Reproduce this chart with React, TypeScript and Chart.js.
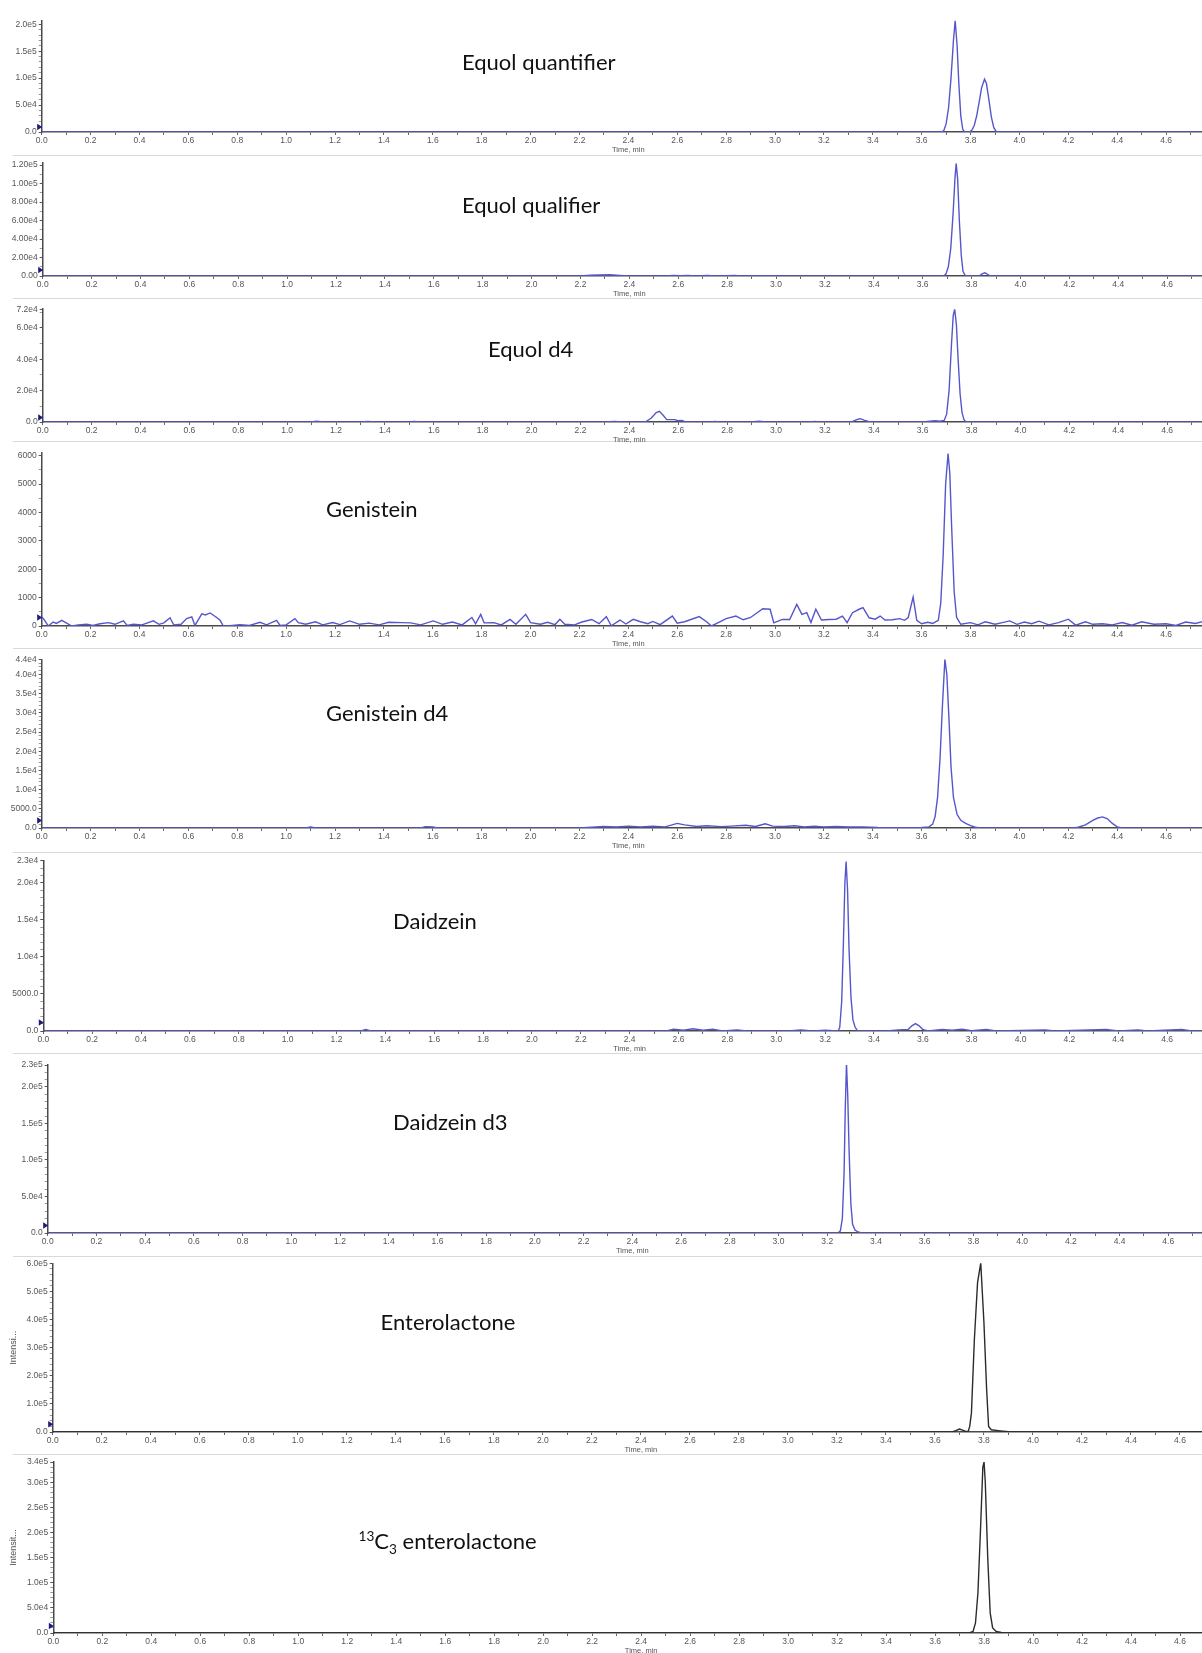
import React, { useEffect, useRef } from 'react';
import { Chart, registerables } from 'chart.js';

Chart.register(...registerables);

type Pt = [number, number];

// ---------- DATA (time in min, intensity in cps) ----------
const xTickLabels = ['0.0', '0.2', '0.4', '0.6', '0.8', '1.0', '1.2', '1.4', '1.6', '1.8', '2.0', '2.2', '2.4', '2.6', '2.8', '3.0', '3.2', '3.4', '3.6', '3.8', '4.0', '4.2', '4.4', '4.6'];
const xAxisTitle = 'Time, min';

const equolQuantifier: Pt[] = [
  [0, 0], [3.68, 0], [3.69, 2000], [3.7, 15000], [3.71, 45000], [3.72, 100000], [3.73, 170000], [3.737, 207000], [3.745, 160000], [3.752, 90000], [3.76, 30000], [3.768, 5000], [3.775, 0], [3.795, 0], [3.805, 3000], [3.815, 12000], [3.825, 30000], [3.835, 55000], [3.845, 82000], [3.857, 98000], [3.865, 90000], [3.875, 60000], [3.885, 28000], [3.895, 8000], [3.905, 1000], [3.915, 0], [4.8, 0],
];
const equolQualifier: Pt[] = [
  [0, 0], [2.2, 0], [2.24, 800], [2.28, 1100], [2.32, 1300], [2.36, 700], [2.4, 0], [2.55, 0], [2.58, 600], [2.61, 300], [2.64, 700], [2.67, 0], [2.72, 500], [2.75, 0], [2.8, 400], [2.83, 700], [2.86, 0], [2.9, 400], [2.93, 0], [2.97, 300], [3.0, 0], [3.685, 0], [3.695, 2000], [3.705, 10000], [3.715, 30000], [3.725, 70000], [3.732, 105000], [3.737, 122000], [3.743, 105000], [3.75, 60000], [3.758, 22000], [3.765, 5000], [3.775, 0], [3.83, 0], [3.845, 2500], [3.855, 3500], [3.87, 1000], [3.88, 0], [4.8, 0],
];
const equolD4: Pt[] = [
  [0, 0], [1.1, 0], [1.12, 500], [1.15, 0], [1.3, 0], [1.33, 400], [1.36, 0], [1.5, 0], [1.52, 400], [1.55, 0], [2.3, 0], [2.34, 400], [2.37, 0], [2.465, 0], [2.49, 2500], [2.51, 6000], [2.523, 6800], [2.54, 4000], [2.553, 1500], [2.57, 1500], [2.585, 1500], [2.6, 800], [2.615, 1000], [2.63, 0], [2.73, 0], [2.75, 400], [2.77, 0], [2.9, 0], [2.93, 500], [2.96, 0], [3.14, 0], [3.16, 400], [3.18, 0], [3.31, 0], [3.33, 1500], [3.344, 2100], [3.36, 1200], [3.378, 300], [3.39, 0], [3.6, 0], [3.63, 500], [3.65, 800], [3.67, 500], [3.688, 1000], [3.698, 5000], [3.708, 20000], [3.718, 50000], [3.725, 68000], [3.731, 72000], [3.738, 62000], [3.745, 40000], [3.753, 18000], [3.761, 6000], [3.769, 1500], [3.778, 0], [4.8, 0],
];
const genistein: Pt[] = [
  [0.0, 320], [0.007, 260], [0.027, 0], [0.047, 140], [0.06, 90], [0.082, 200], [0.1, 110], [0.123, 0], [0.15, 40], [0.184, 60], [0.21, 20], [0.239, 80], [0.273, 120], [0.3, 60], [0.334, 180], [0.35, 20], [0.375, 60], [0.41, 40], [0.457, 180], [0.48, 60], [0.5, 110], [0.525, 290], [0.54, 40], [0.57, 60], [0.593, 260], [0.614, 320], [0.627, 20], [0.655, 430], [0.67, 390], [0.689, 460], [0.716, 300], [0.73, 200], [0.743, 0], [0.77, 10], [0.811, 50], [0.85, 20], [0.893, 130], [0.92, 40], [0.961, 200], [0.975, 20], [1.0, 40], [1.036, 260], [1.05, 120], [1.08, 60], [1.12, 150], [1.15, 40], [1.19, 120], [1.22, 50], [1.26, 180], [1.3, 60], [1.34, 100], [1.38, 40], [1.42, 130], [1.47, 120], [1.51, 110], [1.55, 40], [1.602, 180], [1.64, 60], [1.68, 140], [1.72, 40], [1.76, 300], [1.775, 80], [1.796, 410], [1.81, 110], [1.85, 120], [1.88, 40], [1.916, 230], [1.94, 60], [1.98, 410], [2.0, 120], [2.04, 60], [2.07, 130], [2.1, 50], [2.12, 235], [2.14, 60], [2.18, 40], [2.21, 140], [2.25, 230], [2.28, 80], [2.31, 330], [2.33, 10], [2.366, 210], [2.39, 70], [2.42, 235], [2.45, 150], [2.48, 80], [2.5, 160], [2.53, 50], [2.58, 350], [2.6, 100], [2.63, 150], [2.69, 330], [2.72, 150], [2.74, 0], [2.77, 130], [2.8, 260], [2.84, 350], [2.87, 220], [2.9, 300], [2.95, 610], [2.98, 590], [2.995, 110], [3.03, 230], [3.06, 230], [3.089, 760], [3.11, 410], [3.13, 470], [3.147, 120], [3.167, 590], [3.19, 210], [3.22, 230], [3.25, 240], [3.276, 350], [3.295, 120], [3.317, 470], [3.344, 590], [3.36, 650], [3.385, 290], [3.41, 240], [3.43, 350], [3.45, 210], [3.48, 220], [3.51, 260], [3.53, 200], [3.545, 300], [3.565, 1020], [3.58, 200], [3.6, 80], [3.625, 130], [3.645, 90], [3.668, 200], [3.678, 800], [3.688, 2500], [3.698, 5000], [3.708, 6080], [3.715, 5400], [3.723, 3400], [3.733, 1200], [3.743, 300], [3.76, 60], [3.8, 120], [3.83, 40], [3.86, 150], [3.9, 60], [3.93, 120], [3.96, 180], [3.99, 60], [4.02, 140], [4.05, 80], [4.08, 170], [4.12, 40], [4.16, 120], [4.2, 240], [4.23, 30], [4.27, 150], [4.3, 60], [4.34, 80], [4.38, 40], [4.42, 120], [4.46, 30], [4.5, 150], [4.55, 60], [4.6, 80], [4.64, 20], [4.68, 140], [4.72, 90], [4.76, 180], [4.8, 120],
];
const genisteinD4: Pt[] = [
  [0, 0], [1.08, 0], [1.1, 300], [1.12, 0], [1.55, 0], [1.57, 350], [1.6, 250], [1.62, 0], [2.2, 0], [2.25, 200], [2.3, 400], [2.35, 250], [2.4, 500], [2.45, 300], [2.5, 450], [2.55, 300], [2.6, 1200], [2.63, 800], [2.68, 400], [2.72, 600], [2.78, 350], [2.82, 500], [2.88, 700], [2.92, 400], [2.96, 1100], [2.99, 500], [3.04, 400], [3.08, 600], [3.12, 300], [3.16, 450], [3.2, 300], [3.25, 400], [3.3, 250], [3.36, 300], [3.42, 150], [3.5, 100], [3.6, 150], [3.63, 300], [3.645, 1000], [3.655, 3000], [3.665, 8000], [3.675, 18000], [3.685, 32000], [3.695, 44000], [3.703, 40000], [3.712, 28000], [3.72, 16000], [3.73, 8000], [3.745, 3500], [3.76, 2000], [3.78, 1200], [3.8, 600], [3.82, 200], [3.84, 0], [4.22, 0], [4.24, 200], [4.27, 800], [4.3, 2000], [4.32, 2600], [4.34, 2900], [4.36, 2400], [4.38, 1200], [4.4, 300], [4.42, 0], [4.8, 0],
];
const daidzein: Pt[] = [
  [0, 0], [1.3, 0], [1.32, 200], [1.34, 0], [2.55, 0], [2.58, 250], [2.62, 100], [2.66, 300], [2.7, 100], [2.74, 250], [2.78, 0], [2.84, 150], [2.88, 0], [3.05, 0], [3.1, 150], [3.15, 0], [3.2, 100], [3.253, 0], [3.26, 500], [3.268, 4000], [3.275, 12000], [3.281, 20000], [3.286, 22900], [3.292, 19000], [3.298, 11000], [3.306, 4500], [3.314, 1500], [3.323, 500], [3.333, 0], [3.45, 0], [3.5, 150], [3.54, 200], [3.555, 700], [3.57, 1000], [3.585, 700], [3.6, 200], [3.62, 0], [3.68, 200], [3.72, 100], [3.76, 250], [3.8, 50], [3.86, 200], [3.9, 0], [4.1, 150], [4.14, 0], [4.35, 200], [4.4, 0], [4.48, 150], [4.52, 0], [4.66, 200], [4.7, 0], [4.8, 0],
];
const daidzeinD3: Pt[] = [
  [0, 0], [3.244, 0], [3.254, 3000], [3.262, 20000], [3.269, 80000], [3.274, 170000], [3.279, 232000], [3.284, 190000], [3.29, 110000], [3.297, 40000], [3.304, 12000], [3.314, 4000], [3.329, 1000], [3.344, 0], [4.8, 0],
];
const enterolactone: Pt[] = [
  [0, 0], [3.67, 0], [3.685, 5000], [3.7, 10700], [3.715, 6000], [3.729, 1000], [3.736, 3000], [3.742, 20000], [3.749, 68000], [3.761, 330000], [3.774, 532000], [3.787, 601000], [3.8, 389000], [3.811, 151000], [3.819, 20000], [3.83, 8000], [3.858, 5000], [3.899, 1000], [3.91, 0], [4.8, 0],
];
const c13Enterolactone: Pt[] = [
  [0, 0], [3.74, 0], [3.755, 3000], [3.765, 20000], [3.775, 80000], [3.785, 200000], [3.795, 330000], [3.8, 340000], [3.805, 300000], [3.815, 150000], [3.825, 40000], [3.835, 10000], [3.85, 3000], [3.87, 1000], [3.89, 0], [4.8, 0],
];

// y tick labels per panel
const yLabels1 = ['0.0', '5.0e4', '1.0e5', '1.5e5', '2.0e5'];
const yLabels2 = ['0.00', '2.00e4', '4.00e4', '6.00e4', '8.00e4', '1.00e5', '1.20e5'];
const yLabels3 = ['0.0', '2.0e4', '4.0e4', '6.0e4', '7.2e4'];
const yLabels4 = ['0', '1000', '2000', '3000', '4000', '5000', '6000'];
const yLabels5 = ['0.0', '5000.0', '1.0e4', '1.5e4', '2.0e4', '2.5e4', '3.0e4', '3.5e4', '4.0e4', '4.4e4'];
const yLabels6 = ['0.0', '5000.0', '1.0e4', '1.5e4', '2.0e4', '2.3e4'];
const yLabels7 = ['0.0', '5.0e4', '1.0e5', '1.5e5', '2.0e5', '2.3e5'];
const yLabels8 = ['0.0', '1.0e5', '2.0e5', '3.0e5', '4.0e5', '5.0e5', '6.0e5'];
const yLabels9 = ['0.0', '5.0e4', '1.0e5', '1.5e5', '2.0e5', '2.5e5', '3.0e5', '3.4e5'];

const yMaxes = [207000, 122000, 72000, 6100, 44000, 23000, 230000, 600000, 340000];
const yMinorSteps = [10000, 10000, 10000, 500, 1000, 1000, 10000, 20000, 10000];
const xMax = 4.8;

const names = ['Equol quantifier', 'Equol qualifier', 'Equol d4', 'Genistein', 'Genistein d4', 'Daidzein', 'Daidzein d3', 'Enterolactone', '13C3 enterolactone'];
const yTitles = ['', '', '', '', '', '', '', 'Intensi...', 'Intensit...'];

const series = [equolQuantifier, equolQualifier, equolD4, genistein, genisteinD4, daidzein, daidzeinD3, enterolactone, c13Enterolactone];
const yLabelSets = [yLabels1, yLabels2, yLabels3, yLabels4, yLabels5, yLabels6, yLabels7, yLabels8, yLabels9];

// ---------- LAYOUT (pixels) ----------
const layout = [
  { top: 0, axisX: 41.7, topPx: 20.5, base: 132.3, ppm: 244.4, mark: 5, label: [462, 62] },
  { top: 156, axisX: 42.7, topPx: 163.2, base: 275.7, ppm: 244.4, mark: 6, label: [462, 205.6] },
  { top: 299, axisX: 42.7, topPx: 309.2, base: 421.7, ppm: 244.4, mark: 4.5, label: [488, 349] },
  { top: 442, axisX: 41.7, topPx: 452.9, base: 625.7, ppm: 244.4, mark: 8.5, label: [326, 509] },
  { top: 649, axisX: 41.7, topPx: 659.3, base: 828.3, ppm: 244.4, mark: 7.5, label: [326, 712.8] },
  { top: 852, axisX: 43.3, topPx: 860.7, base: 1030.7, ppm: 244.4, mark: 8.5, label: [393, 921.5] },
  { top: 1054, axisX: 47.7, topPx: 1065, base: 1233, ppm: 243.5, mark: 7.5, label: [393, 1122] },
  { top: 1256, axisX: 52.7, topPx: 1263.3, base: 1432.3, ppm: 245, mark: 7.8, label: [380.6, 1322] },
  { top: 1455, axisX: 53.3, topPx: 1460.7, base: 1632.7, ppm: 245, mark: 7, label: [358.5, 1541.5] },
];
const separators = [155, 297.7, 441, 648, 851.5, 1053, 1255.5, 1454];
const lineColors = ['#5656cc', '#5656cc', '#5656cc', '#5656cc', '#5656cc', '#5656cc', '#5656cc', '#2b2b2b', '#2b2b2b'];

const X_AXIS_H = 22;
const TICK_FONT = { family: "'Liberation Sans', Arial, sans-serif", size: 8.5 };

function Panel({ idx }: { idx: number }) {
  const ref = useRef<HTMLCanvasElement | null>(null);
  const L = layout[idx];
  const width = Math.round(L.axisX + xMax * L.ppm);
  const height = Math.round(L.base + X_AXIS_H - L.top);

  useEffect(() => {
    const canvas = ref.current;
    if (!canvas) return;
    const pts = series[idx];
    const yMax = yMaxes[idx];
    const yLabs = yLabelSets[idx];
    const yMajors = yLabs.map((s) => parseFloat(s));
    const minor = yMinorSteps[idx];
    const yVals: number[] = [...yMajors];
    for (let v = minor; v < yMax; v += minor) {
      if (!yVals.some((m) => Math.abs(m - v) < minor * 0.01)) yVals.push(v);
    }
    yVals.sort((a, b) => a - b);
    const xMajors = xTickLabels.map((s) => parseFloat(s));
    const xVals = [...xMajors, ...xMajors.map((v) => Math.round((v + 0.1) * 10) / 10)].sort((a, b) => a - b);

    const yLabelFor = (v: number) => {
      const i = yMajors.findIndex((m) => Math.abs(m - v) < yMax * 1e-6);
      return i >= 0 ? yLabs[i] : '';
    };
    const xLabelFor = (v: number) => {
      const i = xMajors.findIndex((m) => Math.abs(m - v) < 1e-6);
      return i >= 0 ? xTickLabels[i] : '';
    };

    const markerPlugin = {
      id: 'startMarker',
      afterDatasetsDraw(chart: any) {
        const { ctx, chartArea } = chart;
        const x = chartArea.left;
        const y = chartArea.bottom - L.mark;
        ctx.save();
        ctx.fillStyle = '#1c1c7a';
        ctx.beginPath();
        ctx.moveTo(x - 4.5, y - 3.2);
        ctx.lineTo(x + 0.5, y);
        ctx.lineTo(x - 4.5, y + 3.2);
        ctx.closePath();
        ctx.fill();
        ctx.restore();
      },
    };

    const chart = new Chart(canvas, {
      type: 'line',
      data: {
        datasets: [
          {
            data: pts.map(([x, y]) => ({ x, y })),
            borderColor: lineColors[idx],
            borderWidth: 1.4,
            pointRadius: 0,
            tension: 0,
            fill: false,
          },
        ],
      },
      options: {
        responsive: false,
        animation: false,
        events: [],
        layout: { padding: { top: L.topPx - L.top, left: 0, right: 0, bottom: 0 } },
        plugins: { legend: { display: false }, tooltip: { enabled: false } },
        scales: {
          x: {
            type: 'linear',
            min: 0,
            max: xMax,
            afterBuildTicks: (axis: any) => {
              axis.ticks = xVals.map((v) => ({ value: v }));
            },
            afterFit: (s: any) => {
              s.height = X_AXIS_H;
            },
            ticks: {
              autoSkip: false,
              maxRotation: 0,
              padding: 0.5,
              color: '#555',
              font: TICK_FONT,
              callback: (v: any) => xLabelFor(Number(v)),
            },
            grid: { display: true, drawOnChartArea: false, drawTicks: true, tickLength: 3, color: '#666' },
            border: { display: true, color: '#4a4a4a', width: 1.5 },
            title: {
              display: true,
              text: xAxisTitle,
              color: '#555',
              font: { family: "'Liberation Sans', Arial, sans-serif", size: 7.5 },
              padding: 0,
            },
          },
          y: {
            type: 'linear',
            min: 0,
            max: yMax,
            afterBuildTicks: (axis: any) => {
              axis.ticks = yVals.map((v) => ({ value: v }));
            },
            afterFit: (s: any) => {
              s.width = L.axisX;
            },
            ticks: {
              autoSkip: false,
              padding: 2,
              color: '#555',
              font: TICK_FONT,
              callback: (v: any) => yLabelFor(Number(v)),
            },
            grid: {
              display: true,
              drawOnChartArea: false,
              drawTicks: true,
              tickLength: 3,
              color: (c: any) => (c.tick && yLabelFor(c.tick.value) !== '' ? '#555' : '#999'),
            },
            border: { display: true, color: '#4a4a4a', width: 1.5 },
            title: {
              display: yTitles[idx] !== '',
              text: yTitles[idx],
              color: '#555',
              font: { family: "'Liberation Sans', Arial, sans-serif", size: 9 },
              padding: { top: 8.5, bottom: 0 },
            },
          },
        },
      },
      plugins: [markerPlugin],
    } as any);
    return () => chart.destroy();
  }, [idx]);

  return (
    <canvas
      ref={ref}
      width={width}
      height={height}
      style={{ position: 'absolute', left: 0, top: L.top, width, height }}
    />
  );
}

const LABEL_SIZE = 22;

function PanelName({ idx }: { idx: number }) {
  const [x, y] = layout[idx].label;
  const name = names[idx];
  const style: React.CSSProperties = {
    position: 'absolute',
    left: x,
    top: y - LABEL_SIZE * 0.6,
    fontFamily: "Lato, 'Open Sans', sans-serif",
    fontSize: LABEL_SIZE,
    lineHeight: `${LABEL_SIZE * 1.2}px`,
    color: '#111',
    whiteSpace: 'nowrap',
  };
  if (name.startsWith('13C3')) {
    return (
      <div style={style}>
        <sup style={{ fontSize: LABEL_SIZE * 0.62, verticalAlign: 'baseline', position: 'relative', top: -LABEL_SIZE * 0.38 }}>13</sup>
        C
        <sub style={{ fontSize: LABEL_SIZE * 0.62, verticalAlign: 'baseline', position: 'relative', top: LABEL_SIZE * 0.22 }}>3</sub>
        {name.slice(4)}
      </div>
    );
  }
  return <div style={style}>{name}</div>;
}

export default function App() {
  return (
    <div
      style={{
        position: 'absolute',
        left: 0,
        top: 0,
        width: 1202,
        height: 1653,
        overflow: 'hidden',
        background: '#ffffff',
      }}
    >
      {separators.map((y, i) => (
        <div
          key={'sep' + i}
          style={{ position: 'absolute', left: 13, top: y, width: 1189, height: 1, background: '#d9d9d9' }}
        />
      ))}
      {layout.map((_, i) => (
        <Panel key={'p' + i} idx={i} />
      ))}
      {layout.map((_, i) => (
        <PanelName key={'n' + i} idx={i} />
      ))}
    </div>
  );
}
